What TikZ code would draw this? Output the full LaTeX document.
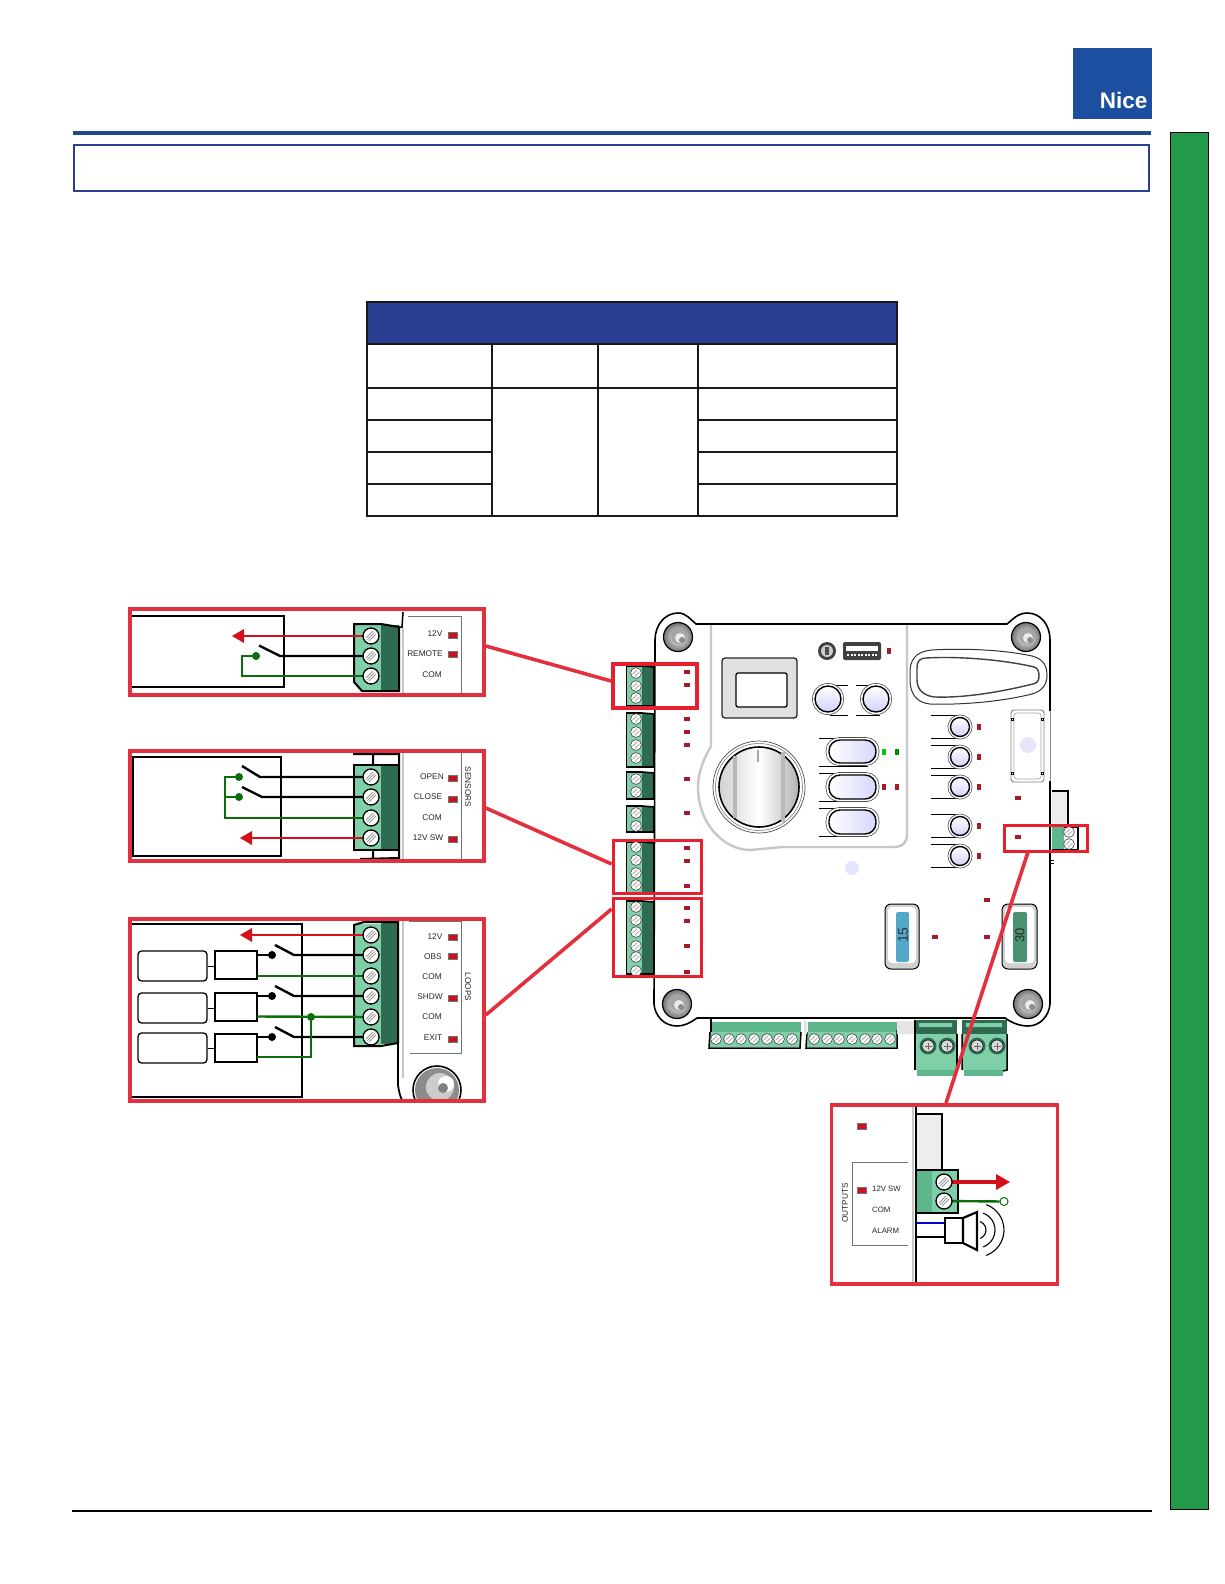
\documentclass[tikz,border=0pt]{standalone}
\usepackage{fontspec}
\setmainfont{Liberation Sans}
\definecolor{hdrblue}{HTML}{2A3F91}
\definecolor{logoblue}{HTML}{1C4FA0}
\definecolor{rulblue}{HTML}{1F4A8C}
\definecolor{barg}{HTML}{239A4A}
\definecolor{panelred}{HTML}{E2303F}
\definecolor{smallred}{HTML}{E6212D}
\definecolor{wred}{HTML}{D5101A}
\definecolor{wgreen}{HTML}{0A6E0A}
\definecolor{tlight}{HTML}{7FCFA8}
\definecolor{tmid}{HTML}{5DB68C}
\definecolor{tdark}{HTML}{2F6B50}
\definecolor{ledred}{HTML}{C8141E}
\definecolor{ledd}{HTML}{A81A25}
\tikzset{
  pic1/.style={x=1pt,y=-1pt},
  panel/.style={draw=panelred,line width=3.6pt},
  smallbox/.style={draw=smallred,line width=3.8pt},
  link/.style={draw=panelred,line width=3.6pt},
  wblack/.style={draw=black,line width=2.4pt},
  wgr/.style={draw=wgreen,line width=2.4pt},
  wrd/.style={draw=wred,line width=2.4pt},
  inbox/.style={draw=black,line width=2.4pt},
  lab/.style={font=\fontsize{8.3}{10}\selectfont,text=black!85,inner sep=0pt},
  labs/.style={font=\fontsize{7.8}{9}\selectfont,text=black!85,inner sep=0pt},
  tabl/.style={draw=black!90,line width=1.5pt},
  glabel/.style={draw=black!55,line width=.8pt},
  bedge/.style={draw=black,line width=1.6pt},
  gedge/.style={draw=black!22,line width=2.4pt},
  tline/.style={draw=black,line width=.9pt},
  cham/.style={draw=black,line width=1.3pt,fill=white,rounded corners=3.5pt},
}
\newcommand{\scrb}[2]{%
 \fill[white,draw=black,line width=1.3pt] (#1,#2) circle[radius=8pt];
 \draw[black!40,line width=1pt] (#1-5,#2+2) -- (#1+2,#2-5) (#1-3.5,#2+3.5)--(#1+3.5,#2-3.5) (#1-2,#2+5) -- (#1+5,#2-2);}
\newcommand{\scrs}[2]{%
 \fill[white,draw=black!75,line width=.6pt] (#1,#2) circle[radius=5.4pt];
 \draw[black!30,line width=1pt] (#1-3.4,#2+1.2) -- (#1+1.2,#2-3.4) (#1-1.2,#2+3.4) -- (#1+3.4,#2-1.2);}
\newcommand{\ledb}[2]{\fill[ledred,draw=black!55,line width=.4pt] (#1-4.5,#2-2.8) rectangle (#1+4.5,#2+2.8);}
\newcommand{\leds}[2]{\fill[ledd] (#1-3.4,#2-2) rectangle (#1+3.4,#2+2);}
\newcommand{\ledv}[3]{\fill[#3] (#1-2.2,#2-3) rectangle (#1+2.2,#2+3);}
\newcommand{\lterm}[2]{%
 \fill[tlight] (626,#1) rectangle (642,#2);
 \fill[tdark] (642,#1) rectangle (654,#2);
 \draw[black,line width=.9pt] (626,#1) -- (626,#2);
 \draw[black,line width=1.6pt] (626,#1) -- (642,#1) -- (654,#1+1) -- (654,#2) -- (626,#2);}
\newcommand{\btn}[3]{%
 \draw[black!70,line width=.6pt,fill=white] (#1,#2) circle[radius=#3+2.6pt];
 \shade[top color=white,bottom color=black!8!blue!18,draw=black,line width=1.4pt] (#1,#2) circle[radius=#3];}
\newcommand{\ovalb}[2]{%
 \draw[black!70,line width=.6pt,fill=white,rounded corners=13pt] (826,#1-2.5) rectangle (879,#2+2.5);
 \shade[left color=white,right color=black!8!blue!16,draw=black,line width=1.4pt,rounded corners=11pt] (829,#1) rectangle (876,#2);}
\newcommand{\bigscr}[2]{%
 \fill[tdark] (#1,#2) circle[radius=8.4pt];
 \fill[white!85!black,draw=black,line width=.5pt] (#1,#2) circle[radius=6pt];
 \draw[black!60,line width=1pt] (#1-3.5,#2) -- (#1+3.5,#2) (#1,#2-3.5) -- (#1,#2+3.5);}
\newcommand{\ear}[2]{%
 \shade[inner color=white,outer color=black!55,draw=black,line width=1.2pt] (#1,#2) circle[radius=14.5pt];
 \fill[black!35] (#1+1,#2-1) circle[radius=8pt];
 \fill[white!92!black] (#1+2,#2+1) circle[radius=5pt];
 \fill[black!45] (#1+4,#2+3) circle[radius=3pt];}
\begin{document}
\begin{tikzpicture}[pic1]
\useasboundingbox (0,0) rectangle (1224,1584);
% page frame
\fill[logoblue] (1073,48) rectangle (1151.5,119);
\node[anchor=east,text=white,inner sep=0pt,font=\fontsize{22.5}{24}\selectfont\bfseries] (nice) at (1147.5,100.5) {Nice};
\fill[rulblue] (73,131.5) rectangle (1151,135.5);
\draw[hdrblue,line width=2pt] (74,144.5) rectangle (1148.5,191);
\fill[barg,draw=black,line width=1pt] (1170,132.5) rectangle (1208.5,1509);
\draw[black,line width=1.3pt] (72,1511) -- (1152,1511);
% table
\fill[hdrblue] (367,302) rectangle (897,344);
\draw[tabl] (367,302) rectangle (897,516);
\draw[tabl] (367,344) -- (897,344) (367,388) -- (897,388);
\draw[tabl] (367,420) -- (492,420) (698,420) -- (897,420);
\draw[tabl] (367,452) -- (492,452) (698,452) -- (897,452);
\draw[tabl] (367,484) -- (492,484) (698,484) -- (897,484);
\draw[tabl] (492,344) -- (492,516) (598,344) -- (598,516) (698,344) -- (698,516);

% ---------- board ----------
\draw[bedge,fill=white] (696,624) -- (1007,624) .. controls (1012,620) and (1018,613) .. (1027,613)
  .. controls (1041,613) and (1050,625) .. (1050,640) -- (1050,1004)
  .. controls (1049,1016) and (1040,1026) .. (1028,1026) .. controls (1020,1026) and (1012,1023) .. (1005,1018)
  -- (697,1018) .. controls (690,1023) and (684,1026) .. (677,1026)
  .. controls (664,1026) and (655,1016) .. (654,1004) -- (655,640)
  .. controls (655,625) and (665,613) .. (678,613) .. controls (686,613) and (690,619) .. (696,624) -- cycle;
\draw[white,line width=2pt] (1050,711) -- (1050,781);
\draw[black!45,line width=1pt] (1050,711) -- (1050,781);
\draw[gedge] (711,625) -- (711,746) .. controls (706,755) and (698,770) .. (698,787)
  .. controls (698,825) and (725,850) .. (750,850) -- (783,847) -- (893,847) .. controls (903,847) and (907,842) .. (907,835) -- (907,625);
\ear{678}{637}\ear{1026}{637}\ear{677}{1004}\ear{1028}{1004}
% display
\fill[black!12,draw=black!85,line width=1.3pt,rounded corners=3pt] (722,658) rectangle (797,718);
\fill[white,draw=black,line width=1.3pt,rounded corners=2pt] (736,673) rectangle (787,707);
% dial
\draw[black!70,line width=.7pt,fill=white] (759,787) circle[radius=46pt];
\draw[black!60,line width=.5pt] (759,787) circle[radius=43.5pt];
\shade[left color=black!18,right color=black!30,middle color=white,draw=black,line width=1.6pt] (759,787) circle[radius=40pt];
\fill[black!28] (733,756) rectangle (737,818);
\fill[black!28] (781,752) rectangle (785,822);
\draw[black!35,line width=1.1pt] (758,750) -- (758,762);
% small buttons
\draw[tline] (830,685) -- (848,685) (830,715) -- (848,715) (856,685) -- (880,685) (856,715) -- (880,715);
\btn{828}{699}{13pt}\btn{876}{699}{13pt}
% oval buttons
\draw[tline] (819,738) -- (868,738) (819,766) -- (868,766) (819,773) -- (868,773) (819,801) -- (868,801) (819,808) -- (868,808) (819,836) -- (868,836);
\ovalb{740}{763}\ovalb{775}{799}\ovalb{810}{834}
\ledv{884}{752}{green!80!black}\ledv{897}{752}{green!55!black}
\ledv{884}{787}{ledd}\ledv{897}{787}{ledd}
% usb
\fill[black!75,rounded corners=2pt] (843,642) rectangle (881,660);
\fill[white] (846,646) rectangle (878,651);
\draw[white,line width=1.2pt,dash pattern=on 2pt off 1.5pt] (847,655) -- (877,655);
\fill[black!75] (827,651) circle[radius=9pt];
\fill[black!20] (827,651) circle[radius=6pt];
\fill[black!70] (825,647) rectangle (829,655);
\ledv{889}{651}{ledd}
% handle
\draw[black!80,line width=1pt,fill=white] (910,670) .. controls (911,656) and (920,651) .. (932,650) .. controls (965,648) and (1005,650) .. (1032,656)
  .. controls (1044,659) and (1047,667) .. (1047,675) .. controls (1047,685) and (1042,691) .. (1032,694)
  .. controls (1000,702) and (960,705) .. (930,704) .. controls (918,703) and (910,695) .. (910,680) -- cycle;
\draw[black!75,line width=1.4pt] (917,668) .. controls (917,661) and (920,658) .. (926,658) .. controls (960,656) and (1005,660) .. (1034,667)
  .. controls (1038,668) and (1039,672) .. (1039,676) .. controls (1039,681) and (1037,683) .. (1033,684)
  .. controls (1000,692) and (965,698) .. (935,697) .. controls (924,696) and (917,690) .. (917,680) -- cycle;
% right-column buttons
\foreach \yy/\nn in {727/a,757/b,787/c,826/d,856/e}{
  \draw[tline] (931,\yy-11.5) -- (960,\yy-11.5) (931,\yy+11.5) -- (960,\yy+11.5);
  \btn{960}{\yy}{9.5pt}
  \ledv{979}{\yy}{ledd}
}
% module
\draw[black!50,line width=.9pt,rounded corners=3pt] (1011,710) rectangle (1044,782);
\draw[black!35,line width=.7pt,rounded corners=3pt] (1014,713) rectangle (1041,779);
\foreach \xx in {1012.5,1042.5}\foreach \yy in {719,773}{\draw[black,line width=.6pt,fill=white] (\xx-1,\yy-1) rectangle (\xx+1,\yy+1);}
\fill[black!8!blue!10] (1028,745) circle[radius=8pt];
\fill[black!8!blue!10] (852,868) circle[radius=7pt];
\leds{1018}{798}\leds{1018}{837}
% right terminal
\fill[black!7,draw=black,line width=1.2pt] (1052,791) -- (1068,791) -- (1068,825) -- (1052,825);
\fill[tmid] (1052,827) rectangle (1064,850);
\draw[black,line width=1.2pt] (1064,827) -- (1078,827) -- (1078,850) -- (1052,850);
\scrs{1069}{832}\scrs{1069}{844}
\draw[black,line width=.8pt] (1051,860) -- (1054,860) (1051,863) -- (1054,863);
% left terminals
\lterm{666}{706}\lterm{713}{767}\lterm{772}{799}\lterm{806}{832}\lterm{842}{893}\lterm{901}{974}
\foreach \yy in {673,686,698,719,732,745,758,779,792,813,826,847,860,873,885,907,920,932,946,957,971}{\scrs{636}{\yy}}
\foreach \yy in {672,685,719,732,745,779,813,848,861,886,908,921,946,972}{\leds{687}{\yy}}
% fuses
\fill[black!18,draw=black,line width=1pt,rounded corners=6pt] (885,904) rectangle (919,969);
\fill[white,rounded corners=4pt] (888,907) rectangle (916,963);
\fill[cyan!50!teal!80,rounded corners=2pt] (896,912) rectangle (909,962);
\node[rotate=90,inner sep=0pt,text=black!80,font=\fontsize{14}{15}\selectfont] (f15) at (903,935) {15};
\fill[black!18,draw=black,line width=1pt,rounded corners=6pt] (1002,904) rectangle (1037,969);
\fill[white,rounded corners=4pt] (1005,907) rectangle (1034,963);
\fill[tmid!80!black,rounded corners=2pt] (1013,912) rectangle (1027,962);
\node[rotate=90,inner sep=0pt,text=black!85,font=\fontsize{13}{14}\selectfont] (f30) at (1020,935) {30};
\leds{935}{937}\leds{987}{937}\leds{987}{900}
% bottom terminals
\fill[tmid] (712,1022) rectangle (801,1032);
\draw[black,line width=1.5pt] (711,1018) -- (711,1032);
\fill[tlight] (710,1032) rectangle (800,1047);
\draw[black,line width=1.5pt] (710,1032) -- (709,1048) -- (800,1048) -- (801,1032);
\fill[tmid] (808,1022) rectangle (897,1032);
\fill[tlight] (807,1032) rectangle (897,1047);
\draw[black,line width=1.5pt] (807,1032) -- (806,1048) -- (897,1048) -- (897,1030);
\foreach \xx in {716,729,741,754,767,779,792,814,827,839,852,865,877,890}{\scrs{\xx}{1039}}
\fill[black!10] (804,1021) rectangle (807,1034) (897,1021) rectangle (915,1034);
\fill[tdark] (915,1020) rectangle (957,1034);
\fill[tlight] (915,1034) rectangle (957,1070);
\fill[tmid] (917,1070) rectangle (955,1076);
\draw[black,line width=1.5pt] (915,1020) -- (915,1070) (957,1034) -- (957,1070);
\fill[tdark] (962,1020) rectangle (1007,1034);
\fill[tlight] (962,1034) rectangle (1007,1070);
\fill[tmid] (964,1070) rectangle (1003,1076);
\draw[black,line width=1.5pt] (962,1034) -- (962,1070) (1007,1034) -- (1007,1070) -- (1003,1071);
\fill[tlight] (919,1023) rectangle (952,1027) (966,1023) rectangle (1002,1027);
\bigscr{928}{1046}\bigscr{947}{1046}\bigscr{977}{1046}\bigscr{997}{1046}

% ---------- panel 1 ----------
\fill[tlight] (354,625) -- (381,625) -- (381,690) -- (362,690) -- (354,682) -- cycle;
\fill[tdark] (381,625) rectangle (399,691);
\draw[black,line width=2pt] (381,624) -- (354,624) -- (354,682) -- (362,691) -- (399,691) -- (399,627) -- (381,624);
\draw[black,line width=1.5pt] (399,627) -- (402,627) -- (403,612);
\draw[gedge] (403,628) -- (403,694);
\draw[glabel] (408,616) -- (461,616) -- (461,694);
\draw[inbox] (132,616) -- (284,616) -- (284,687) -- (132,687);
\coordinate (s11) at (371,636); \coordinate (s12) at (371,656); \coordinate (s13) at (371,676);
\coordinate (r1) at (244,636); \coordinate (g1a) at (242,656); \coordinate (g1b) at (242,676);
\coordinate (sw1a) at (280,656); \coordinate (sw1b) at (259,645.5); \coordinate (d1) at (256,656);
\draw[wrd] (s11) -- (r1);
\fill[wred] (232,636) -- (244,629) -- (244,643) -- cycle;
\draw[wblack] (s12) -- (sw1a) -- (sw1b);
\draw[wgr] (d1) -- (g1a) -- (g1b) -- (s13);
\fill[wgreen] (d1) circle[radius=4pt];
\scrb{371}{636}\scrb{371}{656}\scrb{371}{676}
\node[lab] (l11) at (435,634) {12V};
\node[lab] (l12) at (425,654) {REMOTE};
\node[lab] (l13) at (432,675) {COM};
\ledb{453}{635}\ledb{453}{654}
\node[panel,minimum width=354pt,minimum height=86pt,inner sep=0pt] (p1) at (307,652) {};

% ---------- panel 2 ----------
\fill[tlight] (354,766) rectangle (381,849);
\fill[tdark] (381,766) rectangle (399,849);
\draw[black,line width=2pt] (354,765) rectangle (399,850);
\draw[black,line width=2pt] (353,754) -- (399,754) (373,754) -- (373,765) (399,752) -- (399,860) (360,859) -- (399,858) (373,850) -- (373,859);
\draw[gedge] (403,752) -- (403,860);
\draw[glabel] (403,752) -- (461,752) (461,752) -- (461,860);
\draw[inbox] (133,757) rectangle (281,856);
\coordinate (s21) at (371,777); \coordinate (s22) at (371,797); \coordinate (s23) at (371,818); \coordinate (s24) at (371,838);
\coordinate (r2) at (252,838); \coordinate (d21) at (239,777); \coordinate (d22) at (239,797);
\coordinate (g2a) at (225,777); \coordinate (g2b) at (225,797); \coordinate (g2c) at (225,818);
\coordinate (sw2a) at (260,777); \coordinate (sw2b) at (242,766); \coordinate (sw2c) at (262,797); \coordinate (sw2d) at (242,787);
\draw[wrd] (s24) -- (r2);
\fill[wred] (240,838) -- (252,831) -- (252,845) -- cycle;
\draw[wblack] (s21) -- (sw2a) -- (sw2b);
\draw[wblack] (s22) -- (sw2c) -- (sw2d);
\draw[wgr] (d21) -- (g2a) -- (g2c) -- (s23);
\draw[wgr] (g2b) -- (d22);
\fill[wgreen] (d21) circle[radius=4pt] (d22) circle[radius=4pt];
\scrb{371}{777}\scrb{371}{797}\scrb{371}{818}\scrb{371}{838}
\node[lab] (l21) at (432,777) {OPEN};
\node[lab] (l22) at (428,797) {CLOSE};
\node[lab] (l23) at (432,818) {COM};
\node[lab] (l24) at (428,838) {12V SW};
\node[lab,rotate=-90] (l25) at (468,787) {SENSORS};
\ledb{453}{778}\ledb{453}{799}\ledb{453}{839}
\node[panel,minimum width=354pt,minimum height=110pt,inner sep=0pt] (p2) at (307,806) {};

% ---------- panel 3 ----------
\fill[tlight] (354,924) rectangle (381,1045);
\fill[tdark] (381,923) rectangle (398,1044);
\draw[black,line width=2pt] (354,925) -- (364,922) -- (398,922) -- (398,1043) -- (381,1046) -- (354,1046) -- cycle;
\draw[black,line width=1.8pt] (398,1043) -- (398,1085) .. controls (399,1092) and (400,1096) .. (402,1100);
\draw[gedge] (403,920) -- (403,1078);
\draw[glabel] (409,921) -- (461,921) -- (461,1053) -- (410,1053);
\draw[inbox] (132,924) -- (302,924) -- (302,1097) -- (132,1097);
\coordinate (s31) at (371,935); \coordinate (s32) at (371,955); \coordinate (s33) at (371,976);
\coordinate (s34) at (371,996); \coordinate (s35) at (371,1017); \coordinate (s36) at (371,1037);
\coordinate (r3) at (252,935);
\node[cham,minimum width=69pt,minimum height=30pt,inner sep=0pt] (lp1) at (172.5,966) {};
\node[cham,minimum width=69pt,minimum height=30pt,inner sep=0pt] (lp2) at (172.5,1008) {};
\node[cham,minimum width=69pt,minimum height=30pt,inner sep=0pt] (lp3) at (172.5,1048) {};
\node[inbox,minimum width=42pt,minimum height=28pt,inner sep=0pt] (dt1) at (236,965) {};
\node[inbox,minimum width=42pt,minimum height=28pt,inner sep=0pt] (dt2) at (236,1007) {};
\node[inbox,minimum width=42pt,minimum height=28pt,inner sep=0pt] (dt3) at (236,1048) {};
\draw[black,line width=.8pt] (lp1.east) -- (lp1.east -| dt1.west) (lp2.east) -- (lp2.east -| dt2.west) (lp3.east) -- (lp3.east -| dt3.west);
\draw[wrd] (s31) -- (r3);
\fill[wred] (240,935) -- (252,928) -- (252,942) -- cycle;
\foreach \nn/\yy/\ss in {1/955/s32,2/996/s34,3/1037/s36}{
  \draw[wblack] (\ss) -- (294,\yy) -- (275,\yy-10);
  \draw[wblack] (257,\yy) -- (272,\yy);
  \fill[black] (272,\yy) circle[radius=4pt];
}
\draw[wgr] (257,976) -- (s33);
\draw[wgr] (257,1016.5) -- (s35);
\draw[wgr] (257,1057) -- (311,1057) -- (311,1017);
\fill[wgreen] (311,1017) circle[radius=4pt];
\scrb{371}{935}\scrb{371}{955}\scrb{371}{976}\scrb{371}{996}\scrb{371}{1017}\scrb{371}{1037}
\node[lab] (l31) at (435,937) {12V};
\node[lab] (l32) at (433,957) {OBS};
\node[lab] (l33) at (432,977) {COM};
\node[lab] (l34) at (430,997) {SHDW};
\node[lab] (l35) at (432,1017) {COM};
\node[lab] (l36) at (433,1038) {EXIT};
\node[lab,rotate=-90] (l37) at (468,987) {LOOPS};
\ledb{453}{937}\ledb{453}{956}\ledb{453}{998}\ledb{453}{1039}
\begin{scope}
\clip (400,1060) rectangle (483,1100);
\draw[black,line width=1.6pt] (437,1090) circle[radius=24pt];
\fill[black!45] (437,1090) circle[radius=22pt];
\fill[black!20] (440,1087) circle[radius=14pt];
\fill[white] (446,1084) circle[radius=8pt];
\fill[black!50] (443,1088) circle[radius=5pt];
\end{scope}
\node[panel,minimum width=354pt,minimum height=182pt,inner sep=0pt] (p3) at (307,1010) {};

% ---------- panel 4 ----------
\draw[gedge] (913,1106) -- (913,1284);
\draw[black,line width=2.2pt] (916,1106) -- (916,1284);
\fill[black!7,draw=black,line width=2.2pt] (917,1114) -- (942,1114) -- (942,1170) -- (917,1170);
\fill[tlight] (917,1171) rectangle (958,1212);
\fill[tmid] (917,1171) rectangle (932,1212);
\draw[black,line width=2.2pt] (917,1170) -- (958,1170) -- (958,1213) -- (917,1213);
\coordinate (s41) at (944,1182); \coordinate (s42) at (944,1201); \coordinate (r4) at (997,1182);
\draw[wrd,line width=3.4pt] (s41) -- (r4);
\fill[wred] (1010,1182) -- (996,1174) -- (996,1190) -- cycle;
\node[circle,draw=wgreen,fill=white,line width=1pt,minimum size=8pt,inner sep=0pt] (o4) at (1004,1201.5) {};
\draw[wgr] (s42) -- (o4);
\scrb{944}{1182}\scrb{944}{1201}
\node[draw=black,line width=2.2pt,fill=white,minimum width=18pt,minimum height=25pt,inner sep=0pt] (spk) at (954,1230.5) {};
\draw[draw=blue!85!black,line width=2.4pt] (917,1223) -- (spk.west |- 917,1223);
\draw[wblack] (917,1237) -- (spk.west |- 917,1237);
\draw[black,line width=2.2pt,fill=white] (963,1218) -- (977,1212) -- (977,1250) -- (963,1243) -- cycle;
\draw[black,line width=1.1pt] (977,1230) ++(-70:9pt) arc[start angle=-70,end angle=70,radius=9pt];
\draw[black,line width=1.1pt] (977,1230) ++(-70:18pt) arc[start angle=-70,end angle=70,radius=18pt];
\draw[black,line width=1.1pt] (977,1230) ++(-70:27pt) arc[start angle=-70,end angle=70,radius=27pt];
\draw[glabel] (908,1162) -- (852,1162) -- (852,1245) -- (908,1245);
\node[lab,rotate=90] (l41) at (845,1203) {OUTPUTS};
\node[labs,anchor=west] (l42) at (872,1189) {12V SW};
\node[labs,anchor=west] (l43) at (872,1210) {COM};
\node[labs,anchor=west] (l44) at (872,1231) {ALARM};
\ledb{862}{1126}\ledb{862}{1190}
\node[panel,minimum width=226pt,minimum height=179pt,inner sep=0pt] (p4) at (944.5,1194.5) {};

% ---------- small boxes and links ----------
\node[smallbox,minimum width=84pt,minimum height=44pt,inner sep=0pt] (b1) at (655,686) {};
\node[smallbox,minimum width=88pt,minimum height=53pt,inner sep=0pt] (b2) at (657.5,867) {};
\node[smallbox,minimum width=88pt,minimum height=78pt,inner sep=0pt] (b3) at (657.5,937.5) {};
\node[smallbox,minimum width=83pt,minimum height=26pt,inner sep=0pt] (b4) at (1046,838.5) {};
\coordinate (a1) at (p1.east |- 0,646); \coordinate (e1) at (b1.west |- 0,681);
\coordinate (a2) at (p2.east |- 0,808); \coordinate (e2) at (b2.west |- 0,864);
\coordinate (a3) at (p3.east |- 0,1015); \coordinate (e3) at (b3.west |- 0,909);
\coordinate (a4) at (1028,852); \coordinate (e4) at (946,1103);
\draw[link] (a1) -- (e1);
\draw[link] (a2) -- (e2);
\draw[link] (a3) -- (e3);
\draw[link] (a4) -- (e4);
\end{tikzpicture}
\end{document}
